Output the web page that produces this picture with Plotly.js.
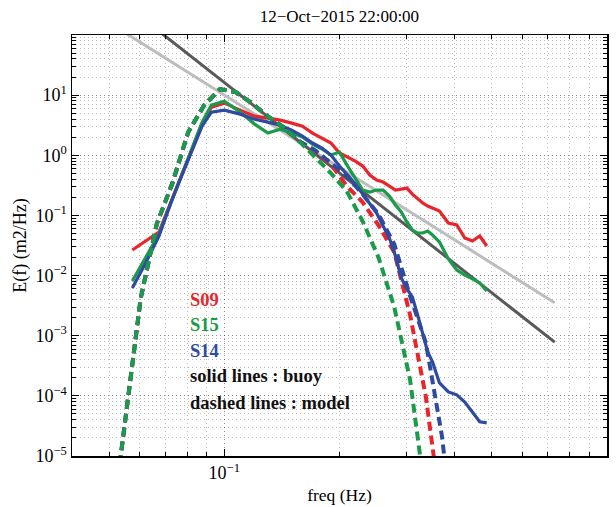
<!DOCTYPE html>
<html>
<head>
<meta charset="utf-8">
<script src="https://cdn.plot.ly/plotly-3.0.1.min.js"></script>
<style>html,body{margin:0;padding:0;background:#fff;}#chart{width:616px;height:507px;}</style>
</head>
<body>
<div id="chart"></div>
<script>
// ---- data ----
const freqBuoy = [0.0575,0.0625,0.0675,0.0725,0.0775,0.0825,0.0875,0.0925,0.10,0.11,0.12,0.13,0.14,0.15,0.16,0.17,0.18,0.19,0.20,0.21,0.22,0.23,0.24,0.25,0.26,0.27,0.28,0.29,0.30,0.31,0.32,0.33,0.34,0.35,0.365,0.385,0.405,0.425,0.445,0.465,0.485];
const S09_buoy = [0.0266,0.0376,0.053,0.167,0.487,1.32,3.30,6.32,7.36,5.63,4.48,4.15,3.84,3.43,3.05,2.34,1.93,1.60,1.09,0.933,0.801,0.662,0.469,0.387,0.359,0.308,0.264,0.274,0.285,0.226,0.187,0.161,0.143,0.133,0.118,0.0748,0.0693,0.0421,0.0376,0.0455,0.031];
const S15_buoy = [0.00813,0.0211,0.0491,0.161,0.487,1.37,3.56,6.82,7.95,5.22,3.30,2.34,2.72,2.34,2.01,1.53,1.27,1.01,1.13,0.662,0.418,0.264,0.245,0.264,0.264,0.210,0.149,0.114,0.0777,0.0572,0.051,0.051,0.0551,0.0472,0.0361,0.0189,0.0124,0.0102,0.00879,0.00754,0.00555];
const S14_buoy = [0.00622,0.0168,0.0455,0.161,0.469,1.27,3.05,5.22,5.63,4.83,3.99,3.56,3.17,2.62,2.08,1.60,1.32,1.01,0.662,0.469,0.332,0.226,0.155,0.110,0.0667,0.0421,0.0211,0.00912,0.00599,0.00441,0.00222,0.00103,0.000538,0.000367,0.000164,0.000116,0.000104,0.000079,0.000054,0.000037,0.0000356];

const freqModel = [0.05,0.055,0.0605,0.0666,0.0732,0.0805,0.0886,0.0974,0.1072,0.1179,0.1297,0.1427,0.1569,0.1726,0.1899,0.2089,0.2297,0.2527,0.2780,0.3058,0.3363,0.3700,0.4070];
const S09_model = [3.0e-7,3.56e-5,4.25e-3,0.072,0.345,2.43,6.82,12.6,11.2,7.36,4.48,2.94,1.72,1.17,0.709,0.308,0.167,0.0693,0.0245,0.00222,9.6e-5,9.8e-7,null];
const S15_model = [3.0e-7,3.56e-5,4.25e-3,0.072,0.345,2.43,6.82,12.6,11.2,7.36,4.48,2.94,1.72,0.933,0.506,0.253,0.0807,0.0203,0.00301,1.85e-4,1.9e-6,null,null];
const S14_model = [3.0e-7,3.56e-5,4.25e-3,0.072,0.345,2.43,6.82,12.6,11.2,7.36,4.48,2.94,1.72,1.22,0.742,0.45,0.226,0.105,0.0334,0.00456,7.6e-4,2.25e-5,1.35e-7];

const refFreq = [0.04, 0.73];
const refLight = [390.6, 0.00352];   // f^-4 reference line
const refDark = [1582, 0.000781];    // f^-5 reference line

const xTickVals = [0.1, 1];
const xTickText = ['10<sup>\u22121</sup>', '10<sup>0</sup>'];
const yTickVals = [1e-5,1e-4,1e-3,1e-2,1e-1,1,10];
const yTickText = ['10<sup>\u22125</sup>','10<sup>\u22124</sup>','10<sup>\u22123</sup>','10<sup>\u22122</sup>','10<sup>\u22121</sup>','10<sup>0</sup>','10<sup>1</sup>'];

const labels = ['S09','S15','S14','solid lines : buoy','dashed lines : model'];
const labelColors = ['#e8252b','#1b9a4a','#2f4b9f','#111','#111'];

// ---- styles ----
const RED = '#e8252b', GREEN = '#1b9a4a', BLUE = '#2f4b9f';
const dash = '9px,5px';

const traces = [
  {x: refFreq, y: refLight, mode:'lines', line:{color:'#bdbdbd', width:3}},
  {x: refFreq, y: refDark, mode:'lines', line:{color:'#595959', width:3}},
  {x: freqBuoy, y: S09_buoy, mode:'lines', line:{color:RED, width:3.2}},
  {x: freqModel, y: S09_model, mode:'lines', line:{color:RED, width:4, dash:dash}},
  {x: freqBuoy, y: S15_buoy, mode:'lines', line:{color:GREEN, width:3.2}},
  {x: freqModel, y: S14_model, mode:'lines', line:{color:BLUE, width:4, dash:dash}},
  {x: freqBuoy, y: S14_buoy, mode:'lines', line:{color:BLUE, width:3.2}},
  {x: freqModel, y: S15_model, mode:'lines', line:{color:GREEN, width:4, dash:dash}}
];

const FONT = '"Liberation Serif", "Times New Roman", serif';
const GRIDC = 'rgba(0,0,0,0.26)';
const GRIDD = '1px,3px';

const axisCommon = {
  type:'log', showline:true, linecolor:'#000', linewidth:1.5, mirror:'allticks',
  ticks:'inside', ticklen:7, tickwidth:1, tickcolor:'#000',
  showgrid:true, gridcolor:GRIDC, gridwidth:1, griddash:GRIDD,
  zeroline:false, tickfont:{family:FONT, size:18, color:'#000'},
  minor:{ticks:'inside', ticklen:4, tickwidth:1, tickcolor:'#000', showgrid:true,
         gridcolor:GRIDC, gridwidth:1, griddash:GRIDD, dtick:'D1'}
};

const annotations = labels.map((t,i)=>({
  text: '<b>'+t+'</b>', xref:'paper', yref:'paper', x:0.216, y:[0.37,0.31,0.25,0.19,0.127][i],
  xanchor:'left', yanchor:'middle', showarrow:false,
  font:{family:FONT, size:18.5, color:labelColors[i]}
}));

const layout = {
  width:616, height:507,
  margin:{l:72, r:9, t:35, b:51},
  paper_bgcolor:'#fff', plot_bgcolor:'#fff',
  showlegend:false,
  title:{text:'12\u2212Oct\u22122015 22:00:00', font:{family:FONT, size:17, color:'#000'}, x:0.551, xanchor:'center', y:0.968, yanchor:'middle'},
  xaxis:Object.assign({}, axisCommon, {range:[Math.log10(0.04), 0], tickvals:xTickVals, ticktext:xTickText,
     title:{text:'freq (Hz)', font:{family:FONT, size:17.5, color:'#000'}, standoff:6}}),
  yaxis:Object.assign({}, axisCommon, {range:[-5, 2], tickvals:yTickVals, ticktext:yTickText,
     title:{text:'E(f) (m2/Hz)', font:{family:FONT, size:18, color:'#000'}, standoff:4}}),
  annotations: annotations
};

Plotly.newPlot('chart', traces, layout, {displayModeBar:false, staticPlot:true});
</script>
</body>
</html>
